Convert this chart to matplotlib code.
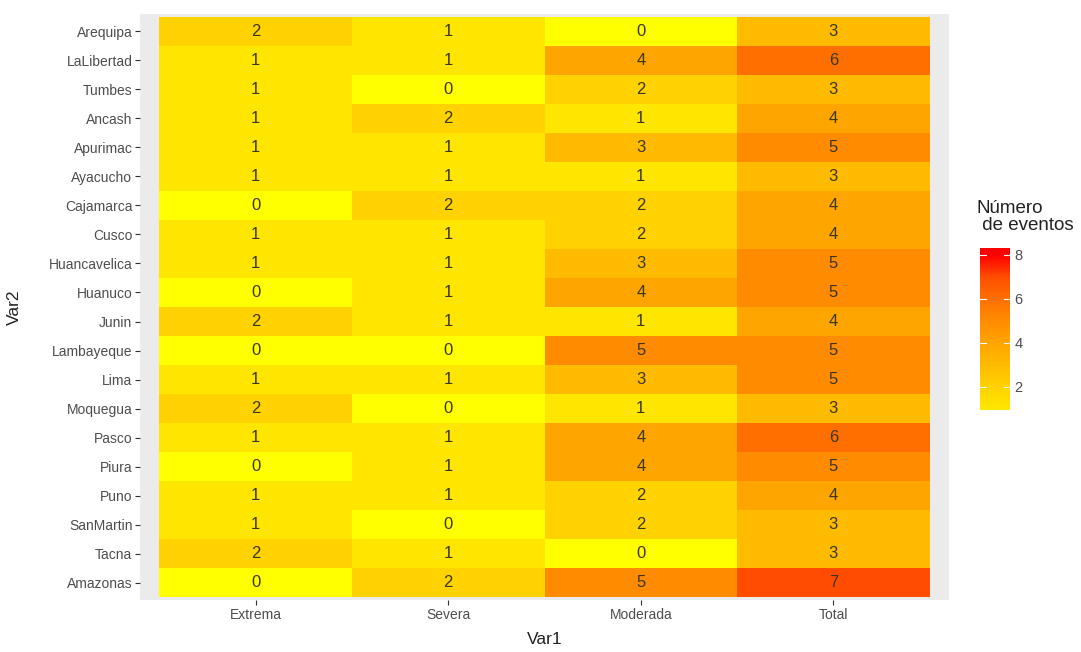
import numpy as np
import matplotlib
matplotlib.use("Agg")
import matplotlib.pyplot as plt
from matplotlib import font_manager
from matplotlib.colors import LinearSegmentedColormap, Normalize

# data
regions = ["Arequipa", "LaLibertad", "Tumbes", "Ancash", "Apurimac", "Ayacucho",
           "Cajamarca", "Cusco", "Huancavelica", "Huanuco", "Junin", "Lambayeque",
           "Lima", "Moquegua", "Pasco", "Piura", "Puno", "SanMartin", "Tacna", "Amazonas"]
categories = ["Extrema", "Severa", "Moderada", "Total"]
extrema = [2, 1, 1, 1, 1, 1, 0, 1, 1, 0, 2, 0, 1, 2, 1, 0, 1, 1, 2, 0]
severa = [1, 1, 0, 2, 1, 1, 2, 1, 1, 1, 1, 0, 1, 0, 1, 1, 1, 0, 1, 2]
moderada = [0, 4, 2, 1, 3, 1, 2, 2, 3, 4, 1, 5, 3, 1, 4, 4, 2, 2, 0, 5]
total = [3, 6, 3, 4, 5, 3, 4, 4, 5, 5, 4, 5, 5, 3, 6, 5, 4, 3, 3, 7]

# font: narrow sans if available
narrow = "Liberation Sans"
for cand in ["Liberation Sans Narrow", "Liberation Sans"]:
    try:
        font_manager.findfont(cand, fallback_to_default=False)
        narrow = cand
        break
    except Exception:
        pass
plt.rcParams['font.family'] = [narrow, 'DejaVu Sans']

vals = np.array([extrema, severa, moderada, total]).T
cmap = LinearSegmentedColormap.from_list(
    "yr", ["#FFFF00", "#FFE600", "#FFD200", "#FFBB00", "#FFA500",
           "#FF8C00", "#FF7000", "#FF4E00", "#FF0000"])
norm = Normalize(vmin=0, vmax=8)

fig = plt.figure(figsize=(10.81, 6.52), dpi=100)
ax = fig.add_axes([140 / 1081, 1 - 600 / 652, 809 / 1081, 586 / 652])
ax.set_facecolor("#EBEBEB")

nr, nc = vals.shape
for i in range(nr):
    for j in range(nc):
        ax.add_patch(plt.Rectangle((j + 0.5, i + 0.5), 1, 1,
                                   facecolor=cmap(norm(vals[i, j])), edgecolor="none"))
        ax.text(j + 1, i + 1, str(vals[i, j]), ha="center", va="center",
                fontsize=12, color="#3a3520")

ax.set_xlim(0.4, nc + 0.6)
ax.set_ylim(nr + 0.6, 0.4)
ax.set_xticks(np.arange(1, nc + 1))
ax.set_xticklabels(categories)
ax.set_yticks(np.arange(1, nr + 1))
ax.set_yticklabels(regions)
ax.tick_params(axis="both", length=3.5, width=0.8, color="#333333",
               labelcolor="#4D4D4D", labelsize=10, pad=2)
for s in ax.spines.values():
    s.set_visible(False)
ax.set_xlabel("Var1", fontsize=12.5, color="#222222")
ax.set_ylabel("Var2", fontsize=12.5, color="#222222")
ax.xaxis.set_label_coords(0.5, -(640 - 600) / 586, transform=ax.transAxes)
ax.yaxis.set_label_coords(-(140 - 14) / 809, 0.5, transform=ax.transAxes)
ax.xaxis.label.set_va("center")
ax.yaxis.label.set_va("center")

# colorbar
cax = fig.add_axes([980 / 1081, 1 - 410 / 652, 30 / 1081, 162 / 652])
lo, hi = 0.95, 8.3
grad = np.linspace(lo, hi, 200).reshape(-1, 1)
cax.imshow(grad, aspect="auto", cmap=cmap, norm=norm, origin="lower",
           extent=[0, 1, lo, hi])
cax.set_xlim(0, 1)
cax.set_ylim(lo, hi)
cax.set_xticks([])
for t in [2, 4, 6, 8]:
    cax.plot([0, 0.2], [t, t], color="white", lw=0.8)
    cax.plot([0.8, 1], [t, t], color="white", lw=0.8)
cax.set_yticks([2, 4, 6, 8])
cax.yaxis.tick_right()
cax.tick_params(axis="y", length=0, labelsize=10.5, labelcolor="#4D4D4D", pad=3)
for s in cax.spines.values():
    s.set_visible(False)
fig.text(977 / 1081, 1 - 200 / 652, "Número\n de eventos", fontsize=13.5,
         color="#222222", ha="left", va="top", linespacing=1.0)

fig.savefig("out.png", dpi=100)
